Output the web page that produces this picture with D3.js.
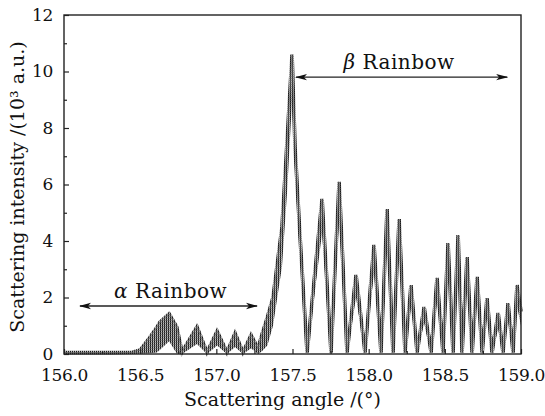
<!DOCTYPE html>
<html>
<head>
<meta charset="utf-8">
<script src="https://cdn.jsdelivr.net/npm/d3@7"></script>
<style>
  body { margin: 0; background: #fff; }
  text { font-family: "DejaVu Serif", "Liberation Serif", serif; fill: #111; }
</style>
</head>
<body>
<script>
// scattering angle (deg), upper and lower edge of the fringe band (10^3 a.u.)
const angles = [
  156.00, 156.30, 156.45, 156.50, 156.565, 156.61, 156.63, 156.69, 156.74, 156.775,
  156.873, 156.939, 157.005, 157.07, 157.123, 157.175, 157.228, 157.274,
  157.30, 157.335, 157.372, 157.431, 157.464, 157.497, 157.517, 157.55, 157.596,
  157.694, 157.753, 157.806, 157.858, 157.917, 157.976, 158.035, 158.081,
  158.121, 158.160, 158.200, 158.239, 158.278, 158.318, 158.364, 158.410,
  158.449, 158.488, 158.521, 158.554, 158.587, 158.613, 158.646, 158.679,
  158.712, 158.745, 158.777, 158.810, 158.850, 158.882, 158.915, 158.948,
  158.974, 159.00
];
const upper = [
  0.05, 0.05, 0.06, 0.14, 0.60, 0.95, 1.13, 1.42, 0.96, 0.07,
  0.96, 0.06, 0.81, 0.06, 0.74, 0.06, 0.67, 0.20,
  0.70, 1.30, 2.00, 4.50, 7.50, 10.60, 7.30, 4.10, 0.05,
  5.49, 0.05, 6.09, 0.05, 2.80, 0.05, 3.86, 0.05,
  5.13, 0.05, 4.78, 0.05, 2.44, 0.05, 1.66, 0.05,
  2.69, 0.05, 3.93, 0.05, 4.21, 0.05, 3.43, 0.05,
  2.73, 0.05, 1.98, 0.05, 1.45, 0.05, 1.80, 0.05,
  2.44, 1.50
];
const lower = [
  0, 0, 0, 0.01, 0.03, 0.05, 0.15, 0.45, 0.02, 0,
  0.35, 0, 0.30, 0, 0.25, 0, 0.20, 0,
  0.10, 0.30, 1.00, 3.10, 5.70, 9.00, 6.40, 3.40, 0,
  4.30, 0, 4.80, 0, 2.00, 0, 2.90, 0,
  4.00, 0, 3.70, 0, 1.70, 0, 1.10, 0,
  1.90, 0, 3.00, 0, 3.20, 0, 2.50, 0,
  2.00, 0, 1.40, 0, 0.90, 0, 1.20, 0,
  1.70, 1.00
];

const xTicks = [156.0, 156.5, 157.0, 157.5, 158.0, 158.5, 159.0];
const xMinorTicks = [156.25, 156.75, 157.25, 157.75, 158.25, 158.75];
const yTicks = [0, 2, 4, 6, 8, 10, 12];
const yMinorTicks = [1, 3, 5, 7, 9, 11];

// annotation arrows: [from, to] angle and height
const alphaArrow = { x: [156.105, 157.267], y: 1.70, label: 'Rainbow', sym: 'α', tx: 156.70, ty: 2.0 };
const betaArrow = { x: [157.523, 158.909], y: 9.80, label: 'Rainbow', sym: 'β', tx: 158.20, ty: 10.1 };

const chartWidth = 545;
const chartHeight = 416;
const margin = { top: 15, right: 24, bottom: 62, left: 64 };
const plotWidth = chartWidth - margin.left - margin.right;
const plotHeight = chartHeight - margin.top - margin.bottom;

const svg = d3.select('body').append('svg')
    .attr('width', chartWidth)
    .attr('height', chartHeight);

const defs = svg.append('defs');

// dense fringe texture
const pat = defs.append('pattern')
    .attr('id', 'fringe')
    .attr('patternUnits', 'userSpaceOnUse')
    .attr('width', 2)
    .attr('height', 2);
pat.append('rect').attr('width', 2).attr('height', 2).attr('fill', '#bdbdbd');
pat.append('rect').attr('width', 1).attr('height', 1).attr('fill', '#1a1a1a');
pat.append('rect').attr('y', 1).attr('width', 1).attr('height', 1).attr('fill', '#444');
pat.append('rect').attr('x', 1).attr('y', 1).attr('width', 1).attr('height', 1).attr('fill', '#8a8a8a');

defs.append('marker')
    .attr('id', 'head')
    .attr('viewBox', '0 0 12 8')
    .attr('refX', 11)
    .attr('refY', 4)
    .attr('markerWidth', 12)
    .attr('markerHeight', 8)
    .attr('markerUnits', 'userSpaceOnUse')
    .attr('orient', 'auto-start-reverse')
  .append('path')
    .attr('d', 'M0,0.8 L12,4 L0,7.2 L3,4 Z')
    .attr('fill', '#111');

const container = svg.append('g')
    .attr('transform', `translate(${margin.left},${margin.top})`);

const xScale = d3.scaleLinear().domain([156, 159]).range([0, plotWidth]);
const yScale = d3.scaleLinear().domain([0, 12]).range([plotHeight, 0]);

const rows = angles.map((a, i) => ({ a: a, hi: upper[i], lo: lower[i] }));

// fringe band
const band = d3.area()
    .x(d => xScale(d.a))
    .y0(d => yScale(d.lo))
    .y1(d => yScale(d.hi));

container.append('path')
    .attr('d', band(rows))
    .attr('fill', 'url(#fringe)')
    .attr('stroke', 'none');

const edge = d3.line()
    .x(d => xScale(d.a))
    .y(d => yScale(d.hi));

container.append('path')
    .attr('d', edge(rows))
    .attr('fill', 'none')
    .attr('stroke', 'url(#fringe)')
    .attr('stroke-width', 3.6)
    .attr('stroke-linejoin', 'miter');

container.append('path')
    .attr('d', edge(rows))
    .attr('fill', 'none')
    .attr('stroke', '#666')
    .attr('stroke-width', 0.6);

// axes
const xAxis = d3.axisBottom(xScale)
    .tickValues(xTicks)
    .tickFormat(d3.format('.1f'))
    .tickSize(-5)
    .tickPadding(15);

const yAxis = d3.axisLeft(yScale)
    .tickValues(yTicks)
    .tickFormat(d3.format('d'))
    .tickSize(-5)
    .tickPadding(11);

container.append('g')
    .attr('transform', `translate(0,${plotHeight})`)
    .call(xAxis);

container.append('g')
    .attr('transform', `translate(0,${plotHeight})`)
    .call(d3.axisBottom(xScale).tickValues(xMinorTicks).tickFormat('').tickSize(-3))
    .call(g => g.select('.domain').remove());

container.append('g').call(yAxis);

container.append('g')
    .call(d3.axisLeft(yScale).tickValues(yMinorTicks).tickFormat('').tickSize(-3))
    .call(g => g.select('.domain').remove());

container.selectAll('.tick line').attr('stroke', '#222').attr('stroke-width', 1.2);
container.selectAll('.domain').remove();
container.selectAll('.tick text')
    .attr('font-family', '"DejaVu Serif", serif')
    .attr('font-size', 17)
    .attr('letter-spacing', -0.3)
    .attr('fill', '#111');

// frame
container.append('rect')
    .attr('width', plotWidth)
    .attr('height', plotHeight)
    .attr('fill', 'none')
    .attr('stroke', '#222')
    .attr('stroke-width', 1.4);

// axis titles
svg.append('text')
    .attr('x', margin.left + plotWidth / 2 - 10)
    .attr('y', 406)
    .attr('text-anchor', 'middle')
    .attr('font-size', 19)
    .text('Scattering angle /(°)');

svg.append('text')
    .attr('transform', `translate(24,${margin.top + 172}) rotate(-90)`)
    .attr('text-anchor', 'middle')
    .attr('font-size', 19)
    .text('Scattering intensity /(10³ a.u.)');

// rainbow annotations
[alphaArrow, betaArrow].forEach(an => {
  container.append('line')
      .attr('x1', xScale(an.x[0]))
      .attr('x2', xScale(an.x[1]))
      .attr('y1', yScale(an.y))
      .attr('y2', yScale(an.y))
      .attr('stroke', '#222')
      .attr('stroke-width', 1.3)
      .attr('marker-start', 'url(#head)')
      .attr('marker-end', 'url(#head)');

  const t = container.append('text')
      .attr('x', xScale(an.tx))
      .attr('y', yScale(an.ty))
      .attr('text-anchor', 'middle')
      .attr('font-size', 20)
      .attr('letter-spacing', 0.5);
  t.append('tspan').attr('font-style', 'italic').text(an.sym);
  t.append('tspan').text(' ' + an.label);
});
</script>
</body>
</html>
